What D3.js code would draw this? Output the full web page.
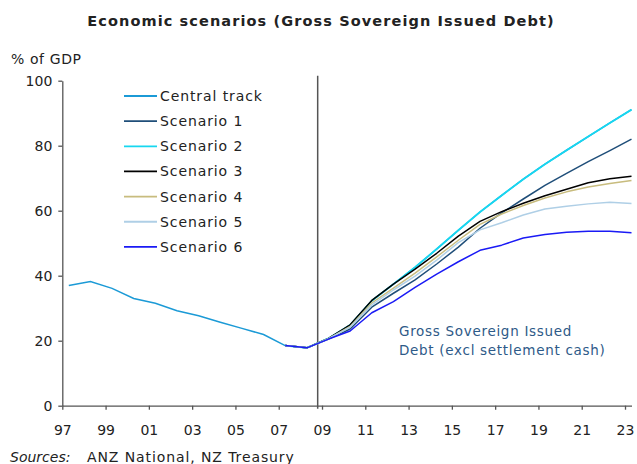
<!DOCTYPE html>
<html>
<head>
<meta charset="utf-8">
<script src="https://cdn.jsdelivr.net/npm/d3@7"></script>
<style>
  body { margin: 0; background: #fff; }
  svg text { font-family: "DejaVu Sans", Verdana, sans-serif; fill: #222; }
</style>
</head>
<body>
<svg id="chart" width="637" height="464"></svg>
<script>
const histYears = [1997, 1998, 1999, 2000, 2001, 2002, 2003, 2004, 2005, 2006];
const histCentral = [37.0, 38.2, 36.1, 33.0, 31.5, 29.2, 27.7, 25.7, 23.8, 21.9];

const scenYears = [2007, 2008, 2009, 2010, 2011, 2012, 2013, 2014, 2015, 2016, 2017, 2018, 2019, 2020, 2021, 2022, 2023];
const centralTrack = [18.5, 17.8, 20.7, 24.8, 32.3, 37.4, 42.6, 48.2, 54.0, 59.6, 64.7, 69.7, 74.3, 78.6, 82.8, 87.0, 91.1];
const scenario1 = [18.5, 17.8, 20.5, 23.6, 30.3, 34.6, 38.7, 43.6, 48.8, 54.6, 59.3, 63.6, 67.8, 71.5, 75.1, 78.5, 82.0];
const scenario2 = [18.5, 17.8, 20.7, 24.8, 32.3, 37.4, 42.6, 48.2, 54.0, 59.6, 64.7, 69.7, 74.3, 78.6, 82.8, 87.0, 91.1];
const scenario3 = [18.5, 17.8, 20.7, 24.9, 32.4, 37.4, 42.0, 46.9, 52.2, 56.7, 59.7, 62.3, 64.6, 66.6, 68.6, 69.8, 70.6];
const scenario4 = [18.5, 17.8, 20.6, 24.4, 31.6, 36.2, 40.8, 45.8, 50.9, 55.8, 59.0, 61.6, 63.9, 65.8, 67.3, 68.4, 69.3];
const scenario5 = [18.5, 17.8, 20.6, 24.2, 31.0, 35.6, 39.9, 44.8, 50.2, 54.1, 56.3, 58.7, 60.5, 61.4, 62.1, 62.6, 62.2];
const scenario6 = [18.5, 17.8, 20.5, 23.0, 28.6, 32.0, 36.4, 40.5, 44.3, 47.8, 49.4, 51.6, 52.7, 53.4, 53.7, 53.7, 53.2];

const seriesNames = ["Central track", "Scenario 1", "Scenario 2", "Scenario 3", "Scenario 4", "Scenario 5", "Scenario 6"];
const seriesColors = ["#1B9AD6", "#1F4E79", "#17D7F0", "#000000", "#C8BC7E", "#AFCFE6", "#1A1AF5"];

const xTickYears = [1997, 1999, 2001, 2003, 2005, 2007, 2009, 2011, 2013, 2015, 2017, 2019, 2021, 2023];
const yTicks = [0, 20, 40, 60, 80, 100];
const obsOffset = 0.3;      // les points tombent ~0.3 an après le repère de l'année
const forecastStart = 2008.8; // trait vertical

const svg = d3.select("#chart");

// Échelles
const x = d3.scaleLinear().domain([1997, 2023.3]).range([62.3, 631.5]);
const y = d3.scaleLinear().domain([0, 100]).range([405.7, 80.7]);

// Titre
svg.append("text")
    .attr("x", 321).attr("y", 26)
    .attr("text-anchor", "middle")
    .style("font-size", "14.5px").style("font-weight", "bold")
    .style("letter-spacing", "1.1px")
    .text("Economic scenarios (Gross Sovereign Issued Debt)");

svg.append("text")
    .attr("x", 11).attr("y", 64)
    .style("font-size", "14px").style("letter-spacing", "0.6px")
    .text("% of GDP");

// Axe Y
const yAxis = svg.append("g")
    .attr("transform", `translate(${x(1997)},0)`)
    .call(d3.axisLeft(y).tickValues(yTicks).tickSize(4).tickSizeOuter(0).tickPadding(6));

// Axe X
const xAxis = svg.append("g")
    .attr("transform", `translate(0,${y(0)})`)
    .call(d3.axisBottom(x).tickValues(xTickYears).tickSize(4).tickSizeOuter(0)
        .tickFormat(d => String(d).slice(2)));

[yAxis, xAxis].forEach(g => {
    g.select(".domain").attr("stroke", "#555").attr("stroke-width", 1.3);
    g.selectAll(".tick line").attr("stroke", "#555").attr("stroke-width", 1.3);
    g.selectAll(".tick text").style("font-size", "14px").style("font-family", "'DejaVu Sans', Verdana, sans-serif").attr("fill", "#222");
});
xAxis.selectAll(".tick text").attr("y", 0).attr("dy", 0).attr("transform", "translate(0,29)");
yAxis.selectAll(".tick text").attr("dy", "0.36em");

// Trait vertical (début des prévisions)
svg.append("line")
    .attr("x1", x(forecastStart)).attr("x2", x(forecastStart))
    .attr("y1", y(101.5)).attr("y2", y(0) + 3)
    .attr("stroke", "#555").attr("stroke-width", 1.5);

// Courbes
const line = d3.line().x(d => x(d[0] + obsOffset)).y(d => y(d[1]));
const scenarioValues = [centralTrack, scenario1, scenario2, scenario3, scenario4, scenario5, scenario6];

// historique du scénario central
svg.append("path")
    .datum(histYears.map((yr, i) => [yr, histCentral[i]]).concat([[2007, centralTrack[0]]]))
    .attr("d", line)
    .attr("fill", "none")
    .attr("stroke", seriesColors[0])
    .attr("stroke-width", 1.5);

scenarioValues.forEach((vals, k) => {
    svg.append("path")
        .datum(scenYears.map((yr, i) => [yr, vals[i]]))
        .attr("d", line)
        .attr("fill", "none")
        .attr("stroke", seriesColors[k])
        .attr("stroke-width", k === 2 ? 1.8 : 1.5)
        .attr("stroke-linejoin", "round");
});

// Légende
const legend = svg.append("g").attr("transform", "translate(124,96)");
seriesNames.forEach((name, i) => {
    const row = legend.append("g").attr("transform", `translate(0,${i * 25.15})`);
    row.append("line").attr("x1", 0).attr("x2", 33).attr("y1", 0).attr("y2", 0)
        .attr("stroke", seriesColors[i]).attr("stroke-width", 1.8);
    row.append("text").attr("x", 36).attr("dy", "0.36em")
        .style("font-size", "14px").style("letter-spacing", "0.9px").text(name);
});

// Annotation
const note = svg.append("text").attr("x", 399).attr("y", 336)
    .style("font-size", "13.5px").style("letter-spacing", "0.7px").style("fill", "#2E5A88");
note.append("tspan").attr("x", 399).text("Gross Sovereign Issued");
note.append("tspan").attr("x", 399).attr("dy", 18.5).text("Debt (excl settlement cash)");

// Sources
const src = svg.append("text").attr("x", 10).attr("y", 462).style("font-size", "14px");
src.append("tspan").style("font-style", "italic").text("Sources:");
src.append("tspan").attr("x", 87).style("letter-spacing", "0.9px").text("ANZ National, NZ Treasury");
</script>
</body>
</html>
